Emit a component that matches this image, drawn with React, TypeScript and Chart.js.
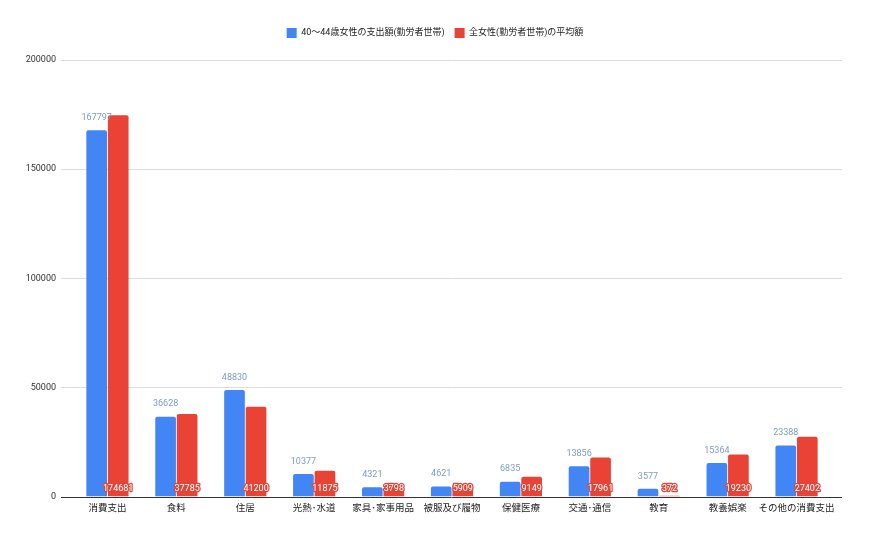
import { useEffect, useRef } from 'react';
import { Chart, registerables, Plugin } from 'chart.js';

Chart.register(...registerables);

const categories = [
  '消費支出',
  '食料',
  '住居',
  '光熱･水道',
  '家具･家事用品',
  '被服及び履物',
  '保健医療',
  '交通･通信',
  '教育',
  '教養娯楽',
  'その他の消費支出',
];
const age40to44 = [167797, 36628, 48830, 10377, 4321, 4621, 6835, 13856, 3577, 15364, 23388];
const allWomen = [174681, 37785, 41200, 11875, 3798, 5909, 9149, 17961, 372, 19230, 27402];
const seriesNames = ['40～44歳女性の支出額(勤労者世帯)', '全女性(勤労者世帯)の平均額'];
const yTicks = [0, 50000, 100000, 150000, 200000];

const FONT = "Roboto, 'Noto Sans CJK JP', sans-serif";

// extra room under the legend, and centre it on the whole canvas
const legendGap: Plugin<'bar'> = {
  id: 'legendGap',
  beforeInit(chart: any) {
    const legend = chart.legend;
    if (!legend) return;
    const fit = legend.fit;
    legend.fit = function () {
      fit.call(this);
      this.height += 12;
    };
  },
  afterUpdate(chart: any) {
    const legend = chart.legend;
    if (!legend) return;
    legend.left = 0;
    legend.right = chart.width;
    legend.width = chart.width;
    legend.adjustHitBoxes();
  },
};

// gridlines reach a bit past the bars, as in the sheet export
const wideGrid: Plugin<'bar'> = {
  id: 'wideGrid',
  beforeDatasetsDraw(chart) {
    const { ctx, chartArea } = chart;
    const y = chart.scales.y;
    ctx.save();
    yTicks.forEach((v) => {
      const py = Math.round(y.getPixelForValue(v)) + 0.5;
      ctx.strokeStyle = v === 0 ? '#333333' : '#dcdcdc';
      ctx.lineWidth = 1;
      ctx.beginPath();
      ctx.moveTo(chartArea.left - 12, py);
      ctx.lineTo(chartArea.right + 11, py);
      ctx.stroke();
    });
    ctx.restore();
  },
};

// value labels: blue ones above the bar, red ones at the foot of the bar
const valueLabels: Plugin<'bar'> = {
  id: 'valueLabels',
  afterDatasetsDraw(chart) {
    const ctx = chart.ctx;
    ctx.save();
    ctx.font = `9px ${FONT}`;
    ctx.textAlign = 'center';
    chart.data.datasets.forEach((ds, di) => {
      const meta = chart.getDatasetMeta(di);
      meta.data.forEach((bar: any, i) => {
        const text = String(ds.data[i]);
        if (di === 0) {
          ctx.textBaseline = 'bottom';
          ctx.fillStyle = '#7d9cc4';
          ctx.fillText(text, bar.x, bar.y - 8);
        } else {
          ctx.textBaseline = 'middle';
          ctx.lineWidth = 2.5;
          ctx.lineJoin = 'round';
          ctx.strokeStyle = '#d9483b';
          ctx.strokeText(text, bar.x, bar.base - 8);
          ctx.fillStyle = '#ffffff';
          ctx.fillText(text, bar.x, bar.base - 8);
        }
      });
    });
    ctx.restore();
  },
};

export default function App() {
  const canvasRef = useRef<HTMLCanvasElement>(null);

  useEffect(() => {
    if (!canvasRef.current) return;
    const chart = new Chart(canvasRef.current, {
      type: 'bar',
      data: {
        labels: categories,
        datasets: [
          {
            label: seriesNames[0],
            data: age40to44,
            backgroundColor: '#4285f4',
            borderRadius: { topLeft: 2, topRight: 2 },
            categoryPercentage: 0.625,
            barPercentage: 0.96,
          },
          {
            label: seriesNames[1],
            data: allWomen,
            backgroundColor: '#ea4335',
            borderRadius: { topLeft: 2, topRight: 2 },
            categoryPercentage: 0.625,
            barPercentage: 0.96,
          },
        ],
      },
      options: {
        responsive: true,
        maintainAspectRatio: false,
        animation: false,
        layout: { padding: { top: 18, right: 39, bottom: 18, left: 0 } },
        plugins: {
          legend: {
            position: 'top',
            labels: {
              boxWidth: 10,
              boxHeight: 10,
              padding: 10,
              color: '#222',
              font: { size: 9, family: FONT },
            },
          },
          tooltip: { enabled: false },
        },
        scales: {
          x: {
            grid: { display: false, drawTicks: false },
            border: { display: false },
            ticks: {
              color: '#222',
              font: { size: 9.5, family: FONT },
              maxRotation: 0,
              autoSkip: false,
              padding: 6,
            },
          },
          y: {
            min: 0,
            max: 200000,
            afterFit: (scale) => {
              scale.width = 73;
            },
            ticks: {
              stepSize: 50000,
              color: '#333',
              font: { size: 9, family: FONT },
              padding: 17,
              callback: (v) => String(v),
            },
            grid: { display: false, drawTicks: false },
            border: { display: false },
          },
        },
      },
      plugins: [legendGap, wideGrid, valueLabels],
    });
    return () => chart.destroy();
  }, []);

  return (
    <div style={{ position: 'absolute', left: 0, top: 0, width: 870, height: 538, background: '#fff' }}>
      <canvas ref={canvasRef} />
    </div>
  );
}
